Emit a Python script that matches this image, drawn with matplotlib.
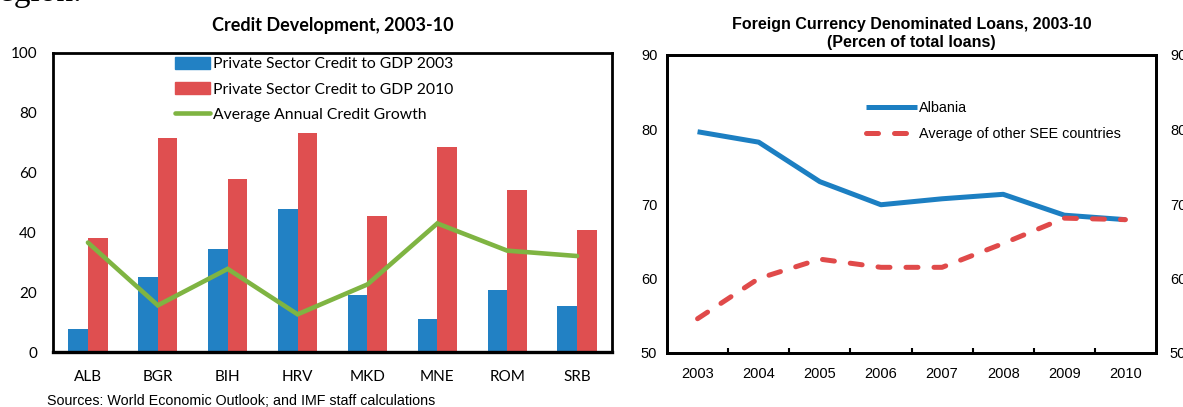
import numpy as np
import matplotlib
matplotlib.use("Agg")
import matplotlib.pyplot as plt
from matplotlib.patches import Patch
from matplotlib.lines import Line2D

# ---- data ----
countries = ["ALB", "BGR", "BIH", "HRV", "MKD", "MNE", "ROM", "SRB"]
credit_gdp_2003 = [7.6, 25.1, 34.5, 47.9, 18.9, 11.2, 20.6, 15.3]
credit_gdp_2010 = [38.1, 71.6, 57.8, 73.4, 45.6, 68.5, 54.2, 40.8]
avg_credit_growth = [36.6, 15.6, 27.8, 12.6, 22.6, 43.0, 33.9, 32.1]

years = ["2003", "2004", "2005", "2006", "2007", "2008", "2009", "2010"]
albania_fx = [79.7, 78.3, 73.0, 69.9, 70.7, 71.3, 68.5, 67.9]
see_avg_fx = [54.6, 60.0, 62.6, 61.5, 61.5, 64.7, 68.1, 67.9]

W, H = 1183, 407
BLUE = "#2281C4"
RED = "#DF4F50"
GREEN = "#7FB442"
LINE_BLUE = "#1C7FC2"
LINE_RED = "#E04A4A"


def fx(px):
    return px / W


def fy(py):
    return 1 - py / H


fig = plt.figure(figsize=(W / 100, H / 100), dpi=100)

# ---- left panel: credit development ----
LEFT_FONT = "Lato"
ax1 = fig.add_axes([fx(53), fy(352), fx(612) - fx(53), fy(53) - fy(352)])
x = np.arange(len(countries))
bw = 0.28
ax1.bar(x - bw / 2, credit_gdp_2003, width=bw, color=BLUE, zorder=2)
ax1.bar(x + bw / 2, credit_gdp_2010, width=bw, color=RED, zorder=2)
ax1.plot(x, avg_credit_growth, color=GREEN, lw=3.3, solid_capstyle="round",
         solid_joinstyle="miter", zorder=3)
ax1.set_xlim(-0.5, len(countries) - 0.5)
ax1.set_ylim(0, 100)
ax1.set_yticks(range(0, 101, 20))
ax1.set_xticks(x)
ax1.set_xticklabels(countries, fontfamily=LEFT_FONT, fontsize=11)
for lab in ax1.get_yticklabels():
    lab.set_fontfamily(LEFT_FONT)
    lab.set_fontsize(11)
ax1.tick_params(axis="y", length=0, pad=11.5)
ax1.tick_params(axis="x", length=0, pad=13)
for side in ["left", "top", "right"]:
    ax1.spines[side].set_linewidth(2.0)
ax1.spines["bottom"].set_linewidth(2.4)
ax1.set_title("Credit Development, 2003-10", fontfamily=LEFT_FONT,
              fontweight="bold", fontsize=13, pad=16)

h_left = [Patch(color=BLUE), Patch(color=RED),
          Line2D([], [], color=GREEN, lw=3.3, solid_capstyle="round")]
l_left = ["Private Sector Credit to GDP 2003", "Private Sector Credit to GDP 2010",
          "Average Annual Credit Growth"]
fig.legend(h_left, l_left, loc="upper left", bbox_to_anchor=(fx(175), fy(57)),
           frameon=False, prop={"family": LEFT_FONT, "size": 11.3},
           handlelength=2.2, handleheight=0.8, handletextpad=0.25,
           labelspacing=0.68, borderpad=0, borderaxespad=0)

fig.text(fx(47), fy(401), "Sources: World Economic Outlook; and IMF staff calculations",
         fontfamily="Liberation Sans", fontsize=10.3, ha="left", va="center")

# ---- right panel: foreign currency loans ----
RIGHT_FONT = "Liberation Sans"
ax2 = fig.add_axes([fx(667), fy(353), fx(1156) - fx(667), fy(55) - fy(353)])
xr = np.arange(len(years))
ax2.plot(xr, albania_fx, color=LINE_BLUE, lw=3.6, solid_capstyle="butt",
         label="Albania", zorder=3)
ax2.plot(xr, see_avg_fx, color=LINE_RED, lw=3.6, dashes=(2.4, 3.2),
         dash_capstyle="round", label="Average of other SEE countries", zorder=3)
ax2.set_xlim(-0.5, len(years) - 0.5)
ax2.set_ylim(50, 90)
ax2.set_yticks(range(50, 91, 10))
ax2.set_xticks(xr)
ax2.set_xticklabels(years, fontfamily=RIGHT_FONT, fontsize=10.5)
ax2.set_xticks(np.arange(0.5, len(years) - 1, 1.0), minor=True)
ax2.tick_params(axis="x", which="major", length=0, pad=10)
ax2.tick_params(axis="x", which="minor", direction="in", length=3.5, width=1.5)
ax2.tick_params(axis="y", length=0, pad=7)
for lab in ax2.get_yticklabels():
    lab.set_fontfamily(RIGHT_FONT)
    lab.set_fontsize(10.5)
for sp in ax2.spines.values():
    sp.set_linewidth(2.0)

ax2r = ax2.twinx()
ax2r.set_ylim(50, 90)
ax2r.set_yticks(range(50, 91, 10))
ax2r.tick_params(axis="y", length=0, pad=10)
for lab in ax2r.get_yticklabels():
    lab.set_fontfamily(RIGHT_FONT)
    lab.set_fontsize(10.5)
for sp in ax2r.spines.values():
    sp.set_linewidth(2.0)

ax2.set_title("Foreign Currency Denominated Loans, 2003-10\n(Percen of total loans)",
              fontfamily=RIGHT_FONT, fontweight="bold", fontsize=11.5, pad=5.5,
              linespacing=1.25)
ax2.legend(loc="upper left", bbox_to_anchor=(fx(866), fy(101)),
           bbox_transform=fig.transFigure, frameon=False,
           prop={"family": RIGHT_FONT, "size": 10.4},
           handlelength=3.5, handletextpad=0.2, labelspacing=0.8,
           borderpad=0, borderaxespad=0)

# cropped body text above the panels
fig.text(fx(82), fy(1), "region.", fontfamily="Liberation Serif", fontsize=24,
         ha="right", va="baseline")

fig.savefig("out.png", dpi=100)
